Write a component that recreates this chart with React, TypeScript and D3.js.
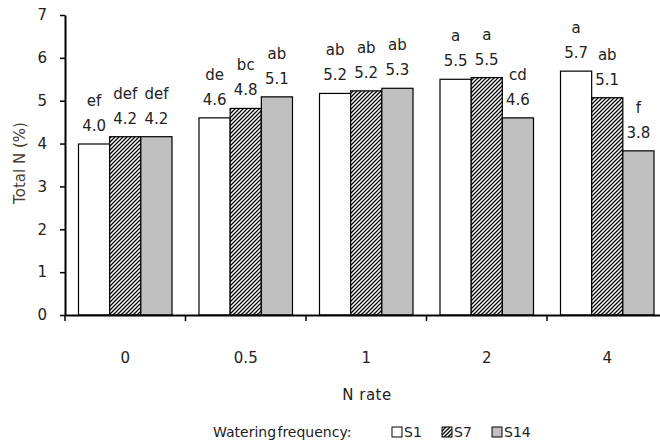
import { useRef, useEffect } from "react";
import * as d3 from "d3";

// N rate categories and watering frequency series
const nRates = ["0", "0.5", "1", "2", "4"];
const seriesNames = ["S1", "S7", "S14"];

const s1Values = [3.99, 4.6, 5.17, 5.5, 5.69];
const s7Values = [4.16, 4.82, 5.23, 5.54, 5.07];
const s14Values = [4.16, 5.09, 5.29, 4.6, 3.83];

const s1Letters = ["ef", "de", "ab", "a", "a"];
const s7Letters = ["def", "bc", "ab", "a", "ab"];
const s14Letters = ["def", "ab", "ab", "cd", "f"];

const s1Labels = ["4.0", "4.6", "5.2", "5.5", "5.7"];
const s7Labels = ["4.2", "4.8", "5.2", "5.5", "5.1"];
const s14Labels = ["4.2", "5.1", "5.3", "4.6", "3.8"];

const yTicks = [0, 1, 2, 3, 4, 5, 6, 7];

type Bar = {
  rate: string;
  series: string;
  value: number;
  letter: string;
  label: string;
};

const App = () => {
  const svgRef = useRef<SVGSVGElement | null>(null);
  const width = 660;
  const height = 445;

  useEffect(() => {
    if (!svgRef.current) return;

    const svg = d3.select(svgRef.current);
    svg.selectAll("*").remove();

    const font = "'DejaVu Sans', Verdana, sans-serif";
    const margin = { top: 15, left: 65 };
    const innerHeight = 300;
    const bandW = 120.5;

    const values = [s1Values, s7Values, s14Values];
    const letters = [s1Letters, s7Letters, s14Letters];
    const labels = [s1Labels, s7Labels, s14Labels];
    const bars: Bar[] = [];
    nRates.forEach((r, i) => {
      seriesNames.forEach((s, j) => {
        bars.push({
          rate: r,
          series: s,
          value: values[j][i],
          letter: letters[j][i],
          label: labels[j][i],
        });
      });
    });

    // hatch pattern for S7
    const defs = svg.append("defs");
    const pat = defs
      .append("pattern")
      .attr("id", "hatch")
      .attr("patternUnits", "userSpaceOnUse")
      .attr("width", 4)
      .attr("height", 4);
    pat.append("rect").attr("width", 4).attr("height", 4).attr("fill", "#fff");
    pat
      .append("path")
      .attr("d", "M-1,1 l2,-2 M0,4 l4,-4 M3,5 l2,-2")
      .attr("stroke", "#000")
      .attr("stroke-width", 1.25);

    const fills: Record<string, string> = {
      S1: "#ffffff",
      S7: "url(#hatch)",
      S14: "#c0c0c0",
    };

    const x = d3
      .scaleBand()
      .domain(nRates)
      .range([0, bandW * nRates.length]);
    const xs = d3
      .scaleBand()
      .domain(seriesNames)
      .range([0, x.bandwidth() - 27]);

    const y = d3.scaleLinear().domain([0, 7]).range([innerHeight, 0]);

    const g = svg
      .append("g")
      .attr("transform", `translate(${margin.left},${margin.top})`);

    // bars
    const bx = (d: Bar) => (x(d.rate) ?? 0) + 13.5 + (xs(d.series) ?? 0);
    g.selectAll("rect.bar")
      .data(bars)
      .enter()
      .append("rect")
      .attr("class", "bar")
      .attr("x", bx)
      .attr("y", (d) => y(d.value))
      .attr("width", xs.bandwidth())
      .attr("height", (d) => innerHeight - y(d.value))
      .attr("fill", (d) => fills[d.series])
      .attr("stroke", "#000")
      .attr("stroke-width", 1.2);

    // value + letter labels
    const cx = (d: Bar) => bx(d) + xs.bandwidth() / 2;
    g.selectAll("text.val")
      .data(bars)
      .enter()
      .append("text")
      .attr("class", "val")
      .attr("x", cx)
      .attr("y", (d) => y(d.value) - 13)
      .attr("text-anchor", "middle")
      .style("font-family", font)
      .style("font-size", "15px")
      .style("fill", "#222")
      .text((d) => d.label);
    g.selectAll("text.let")
      .data(bars)
      .enter()
      .append("text")
      .attr("class", "let")
      .attr("x", cx)
      .attr("y", (d) => y(d.value) - 38)
      .attr("text-anchor", "middle")
      .style("font-family", font)
      .style("font-size", "15px")
      .style("fill", "#222")
      .text((d) => d.letter);

    // y axis
    const yAxis = g
      .append("g")
      .call(
        d3
          .axisLeft(y)
          .tickValues(yTicks)
          .tickSize(5)
          .tickSizeOuter(0)
          .tickPadding(13)
          .tickFormat(d3.format("d"))
      );
    yAxis.select(".domain").attr("stroke", "#000").attr("stroke-width", 2);
    yAxis.selectAll(".tick line").attr("stroke", "#000").attr("stroke-width", 1.5);
    yAxis
      .selectAll(".tick text")
      .style("font-family", font)
      .style("font-size", "15px")
      .style("fill", "#222");

    // x axis
    const xAxis = g
      .append("g")
      .attr("transform", `translate(0,${innerHeight})`)
      .call(d3.axisBottom(x).tickSize(0).tickPadding(37).tickSizeOuter(0));
    xAxis.select(".domain").attr("stroke", "#000").attr("stroke-width", 2);
    xAxis
      .selectAll(".tick text")
      .attr("dy", "0")
      .style("font-family", font)
      .style("font-size", "15px")
      .style("fill", "#222");
    // tick marks at category boundaries
    xAxis
      .selectAll("line.sep")
      .data(nRates)
      .enter()
      .append("line")
      .attr("class", "sep")
      .attr("x1", (d) => x(d) ?? 0)
      .attr("x2", (d) => x(d) ?? 0)
      .attr("y1", 0)
      .attr("y2", 6)
      .attr("stroke", "#000")
      .attr("stroke-width", 1.5);
    xAxis.selectAll(".tick text").attr("y", 48);

    // axis titles
    svg
      .append("text")
      .attr("transform", `translate(25,${margin.top + 148}) rotate(-90)`)
      .attr("text-anchor", "middle")
      .style("font-family", font)
      .style("font-size", "15px")
      .style("fill", "#4a3c30")
      .text("Total N (%)");

    svg
      .append("text")
      .attr("x", 367)
      .attr("y", 400)
      .attr("text-anchor", "middle")
      .style("font-family", font)
      .style("font-size", "15px")
      .style("letter-spacing", "0.5px")
      .style("fill", "#222")
      .text("N rate");

    // legend
    const leg = svg.append("g").attr("transform", "translate(0,437)");
    leg
      .append("text")
      .attr("x", 213)
      .attr("y", 0)
      .style("font-family", font)
      .style("font-size", "14px")
      .style("word-spacing", "-3px")
      .style("fill", "#222")
      .text("Watering frequency:");
    const legX = [392, 442, 492];
    seriesNames.forEach((s, i) => {
      leg
        .append("rect")
        .attr("x", legX[i])
        .attr("y", -10)
        .attr("width", 10)
        .attr("height", 10)
        .attr("fill", fills[s])
        .attr("stroke", "#000")
        .attr("stroke-width", 1);
      leg
        .append("text")
        .attr("x", legX[i] + 12)
        .attr("y", 0)
        .style("font-family", font)
        .style("font-size", "14px")
        .style("fill", "#222")
        .text(s);
    });
  }, []);

  return (
    <svg
      ref={svgRef}
      width={width}
      height={height}
      style={{ position: "absolute", left: 0, top: 0, background: "#fff" }}
    ></svg>
  );
};

export default App;
